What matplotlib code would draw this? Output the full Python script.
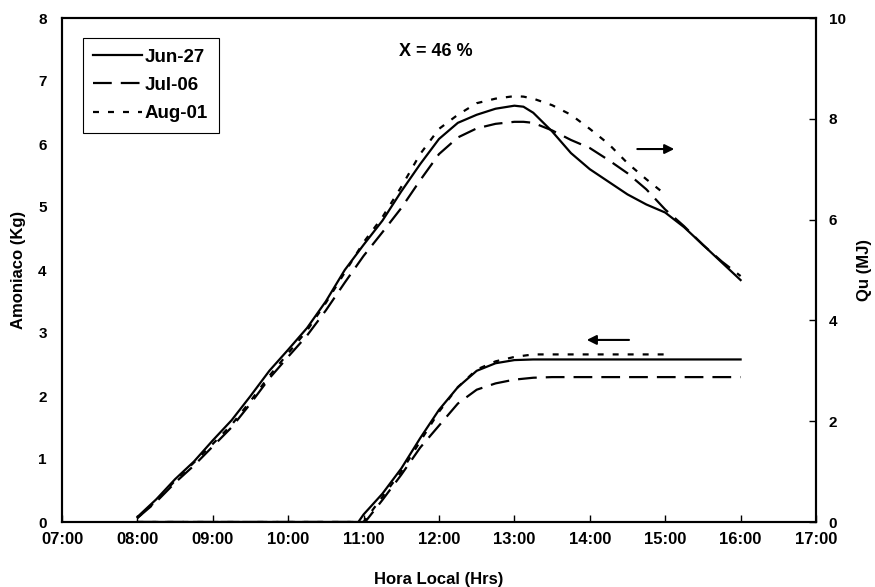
import matplotlib
matplotlib.use("Agg")
import matplotlib.pyplot as plt
from matplotlib.ticker import FixedLocator, FuncFormatter

plt.rcParams['font.family'] = ['Liberation Sans', 'DejaVu Sans']
plt.rcParams['font.weight'] = 'bold'
plt.rcParams['lines.scale_dashes'] = False

# hours (decimal local time) and collected heat Qu (MJ), right axis
qu_hours = [8.0, 8.25, 8.5, 8.75, 9.0, 9.25, 9.5, 9.75, 10.0, 10.25, 10.5, 10.75,
            11.0, 11.25, 11.5, 11.75, 12.0, 12.25, 12.5, 12.75, 13.0, 13.12, 13.25,
            13.5, 13.75, 14.0, 14.25, 14.5, 14.75, 15.0, 15.25, 15.5, 15.75, 16.0]
qu_jun27 = [0.10, 0.45, 0.85, 1.20, 1.62, 2.02, 2.50, 3.00, 3.42, 3.85, 4.38, 5.00,
            5.50, 5.98, 6.56, 7.10, 7.60, 7.92, 8.08, 8.20, 8.26, 8.24, 8.12,
            7.75, 7.32, 7.00, 6.75, 6.50, 6.30, 6.14, 5.85, 5.50, 5.15, 4.80]
qu_jul06 = [0.08, 0.40, 0.78, 1.12, 1.50, 1.88, 2.35, 2.85, 3.28, 3.70, 4.20, 4.75,
            5.28, 5.75, 6.23, 6.78, 7.30, 7.63, 7.81, 7.90, 7.94, 7.94, 7.92,
            7.77, 7.58, 7.42, 7.18, 6.92, 6.60, 6.20, 5.87, 5.50, 5.17, 4.88]
qu_hours_aug = qu_hours[:30]
qu_aug01 = [0.08, 0.42, 0.82, 1.18, 1.55, 1.93, 2.40, 2.90, 3.35, 3.80, 4.35, 4.95,
            5.55, 6.05, 6.65, 7.30, 7.80, 8.08, 8.31, 8.40, 8.45, 8.44, 8.40,
            8.27, 8.08, 7.80, 7.50, 7.12, 6.80, 6.50]

# ammonia produced (kg), left axis
nh3_hours_jun = [8.0, 9.0, 10.0, 10.93, 11.0, 11.25, 11.5, 11.75, 12.0, 12.25,
                 12.5, 12.75, 13.0, 13.25, 14.0, 15.0, 16.0]
nh3_jun27 = [0.0, 0.0, 0.0, 0.0, 0.12, 0.45, 0.85, 1.33, 1.78, 2.14,
             2.40, 2.52, 2.57, 2.58, 2.58, 2.58, 2.58]
nh3_hours_jul = [8.0, 9.0, 10.0, 11.02, 11.25, 11.5, 11.75, 12.0, 12.25, 12.5,
                 12.75, 13.0, 13.25, 13.5, 14.0, 15.0, 16.0]
nh3_jul06 = [0.0, 0.0, 0.0, 0.0, 0.35, 0.75, 1.18, 1.53, 1.88, 2.10,
             2.20, 2.26, 2.29, 2.30, 2.30, 2.30, 2.30]
nh3_hours_aug = [8.0, 9.0, 10.0, 11.0, 11.25, 11.5, 11.75, 12.0, 12.25, 12.5,
                 12.75, 13.0, 13.25, 14.0, 15.0]
nh3_aug01 = [0.0, 0.0, 0.0, 0.0, 0.40, 0.80, 1.28, 1.75, 2.14, 2.42,
             2.55, 2.62, 2.66, 2.66, 2.66]

hour_ticks = list(range(7, 18))
left_ticks = list(range(0, 9))
right_ticks = [0, 2, 4, 6, 8, 10]

solid = '-'
dashed = (0, (13.5, 6.5))
dotted = (0, (4.3, 6.5))
lw = 1.6

fig = plt.figure(figsize=(8.75, 5.87), dpi=100)
ax = fig.add_axes([62 / 875, 65 / 587, 754 / 875, 504 / 587])
ax2 = ax.twinx()

# Qu curves on the right axis
ax2.plot(qu_hours, qu_jun27, color='black', lw=lw, ls=solid, label='Jun-27')
ax2.plot(qu_hours, qu_jul06, color='black', lw=lw, ls=dashed, label='Jul-06')
ax2.plot(qu_hours_aug, qu_aug01, color='black', lw=lw, ls=dotted, label='Aug-01')

# ammonia curves on the left axis
ax.plot(nh3_hours_jun, nh3_jun27, color='black', lw=lw, ls=solid)
ax.plot(nh3_hours_jul, nh3_jul06, color='black', lw=lw, ls=dashed)
ax.plot(nh3_hours_aug, nh3_aug01, color='black', lw=lw, ls=dotted)

ax.set_xlim(7, 17)
ax.set_ylim(0, 8)
ax2.set_ylim(0, 10)
ax.xaxis.set_major_locator(FixedLocator(hour_ticks))
ax.xaxis.set_major_formatter(FuncFormatter(lambda v, p: '%02d:00' % int(round(v))))
ax.yaxis.set_major_locator(FixedLocator(left_ticks))
ax2.yaxis.set_major_locator(FixedLocator(right_ticks))

for a in (ax, ax2):
    for s in a.spines.values():
        s.set_linewidth(1.5)
ax.tick_params(axis='x', direction='in', length=5, width=1, labelsize=12, pad=7)
ax.tick_params(axis='y', length=0, labelsize=11, pad=11)
ax2.tick_params(axis='y', direction='in', length=5, width=1, labelsize=11, pad=9)

ax.set_xlabel('Hora Local (Hrs)', fontsize=12, fontweight='bold', labelpad=18)
ax.set_ylabel('Amoniaco (Kg)', fontsize=12, fontweight='bold', labelpad=9)
ax2.set_ylabel('Qu (MJ)', fontsize=12, fontweight='bold', labelpad=8)

ax.text(0.496, 0.934, 'X = 46 %', transform=ax.transAxes, ha='center', va='center',
        fontsize=13, fontweight='bold')

# arrows telling which axis each group of curves belongs to
ax2.annotate('', xy=(15.12, 7.40), xytext=(14.63, 7.40),
             arrowprops=dict(arrowstyle='-|>', color='black', lw=1.5,
                             mutation_scale=14, shrinkA=0, shrinkB=0))
ax.annotate('', xy=(13.96, 2.89), xytext=(14.52, 2.89),
            arrowprops=dict(arrowstyle='-|>', color='black', lw=1.5,
                            mutation_scale=14, shrinkA=0, shrinkB=0))

leg = ax2.legend(loc='upper left', bbox_to_anchor=(0.028, 0.96), fontsize=13.5,
                 frameon=True, fancybox=False, edgecolor='black', framealpha=1,
                 handlelength=2.6, handletextpad=0.15, labelspacing=0.6,
                 borderpad=0.55, borderaxespad=0)
leg.get_frame().set_linewidth(0.8)

fig.savefig('out.png', dpi=100)
